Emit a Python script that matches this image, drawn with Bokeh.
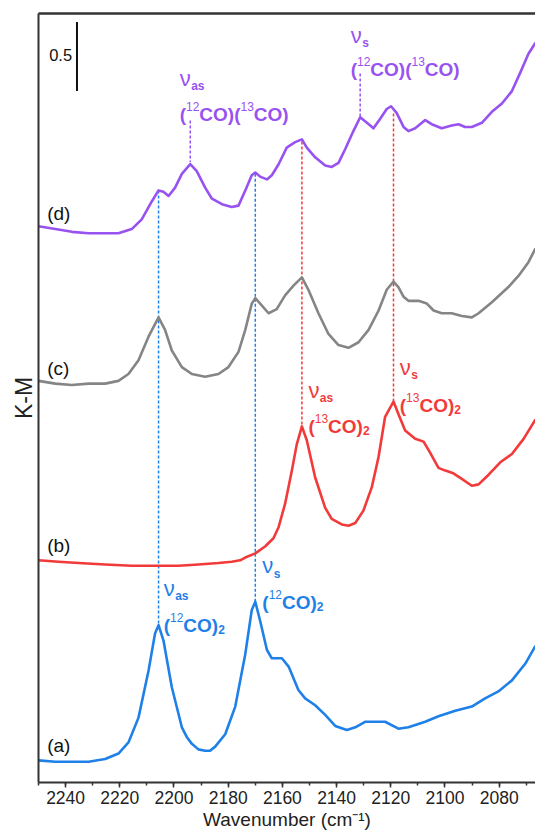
from bokeh.plotting import figure
from bokeh.models import Range1d, SingleIntervalTicker, FixedTicker, LinearAxis
from bokeh.core.properties import value
from bokeh.embed import file_html
from bokeh.resources import INLINE

# ---------------- data ----------------
wn_a = [2250, 2243.8, 2237.7, 2231.5, 2225.4, 2220.5, 2216.8, 2213.1, 2209.4, 2207.0, 2205.7, 2203.9,
        2200.8, 2197.1, 2195.3, 2193.4, 2191.0, 2188.5, 2186.7, 2184.8, 2181.1, 2177.4, 2173.7, 2171.3,
        2170.0, 2168.2, 2165.7, 2163.9, 2160.2, 2157.7, 2154.1, 2151.6, 2147.9, 2144.2, 2140.5, 2136.2,
        2133.1, 2129.5, 2125.8, 2122.1, 2117.2, 2113.5, 2107.3, 2102.4, 2096.2, 2090.1, 2085.2, 2080.3,
        2075.3, 2070.4, 2066.6]
km_a = [0.16, 0.15, 0.15, 0.15, 0.17, 0.21, 0.29, 0.47, 0.81, 1.08, 1.14, 1.03,
        0.69, 0.40, 0.33, 0.28, 0.24, 0.23, 0.23, 0.26, 0.35, 0.55, 0.93, 1.25,
        1.31, 1.17, 0.96, 0.90, 0.90, 0.84, 0.67, 0.61, 0.56, 0.49, 0.41, 0.38,
        0.40, 0.44, 0.44, 0.44, 0.39, 0.40, 0.44, 0.48, 0.52, 0.55, 0.61, 0.66,
        0.74, 0.86, 0.99]

wn_b = [2250, 2242.6, 2235.2, 2225.4, 2215.6, 2205.7, 2198.3, 2191.0, 2183.6, 2178.7, 2175.6, 2173.7,
        2170.0, 2166.4, 2163.3, 2161.4, 2159.0, 2156.5, 2154.7, 2152.8, 2151.0, 2147.9, 2144.2, 2141.8,
        2138.1, 2135.6, 2133.1, 2130.1, 2127.0, 2124.5, 2122.1, 2119.0, 2117.2, 2114.7, 2111.0, 2107.9,
        2105.5, 2102.4, 2099.9, 2096.9, 2093.8, 2090.1, 2087.6, 2083.9, 2079.6, 2075.3, 2071.0, 2066.6]
km_b = [1.61, 1.60, 1.59, 1.58, 1.57, 1.57, 1.57, 1.58, 1.59, 1.60, 1.61, 1.63,
        1.66, 1.71, 1.77, 1.85, 2.02, 2.26, 2.45, 2.58, 2.48, 2.21, 1.99, 1.91,
        1.87, 1.86, 1.88, 1.97, 2.14, 2.36, 2.65, 2.76, 2.67, 2.55, 2.49, 2.47,
        2.39, 2.28, 2.26, 2.24, 2.20, 2.15, 2.16, 2.23, 2.32, 2.38, 2.49, 2.63]

wn_c = [2250, 2243.8, 2237.7, 2231.5, 2225.4, 2220.5, 2216.8, 2213.1, 2209.4, 2205.7, 2203.3, 2200.8,
        2197.1, 2193.4, 2188.5, 2183.6, 2179.9, 2176.2, 2173.7, 2171.3, 2170.0, 2168.2, 2165.1, 2162.1,
        2159.0, 2155.9, 2152.8, 2150.4, 2146.7, 2143.0, 2139.3, 2135.6, 2131.9, 2128.2, 2124.5, 2121.5,
        2119.0, 2117.2, 2115.3, 2113.5, 2109.8, 2106.7, 2104.2, 2101.2, 2097.5, 2093.8, 2090.1, 2087.6,
        2082.7, 2076.6, 2072.9, 2069.2, 2066.6]
km_c = [2.91, 2.89, 2.88, 2.89, 2.89, 2.91, 2.96, 3.06, 3.23, 3.37, 3.28, 3.13,
        3.01, 2.96, 2.94, 2.96, 3.01, 3.12, 3.28, 3.47, 3.51, 3.47, 3.40, 3.43,
        3.53, 3.60, 3.66, 3.57, 3.40, 3.25, 3.17, 3.15, 3.19, 3.28, 3.42, 3.57,
        3.63, 3.59, 3.52, 3.49, 3.49, 3.47, 3.42, 3.40, 3.40, 3.38, 3.37, 3.40,
        3.48, 3.59, 3.67, 3.77, 3.87]

wn_d = [2250, 2243.8, 2237.7, 2231.5, 2225.4, 2220.5, 2215.6, 2211.9, 2208.2, 2205.7, 2203.9, 2202.0,
        2199.6, 2197.1, 2194.0, 2191.6, 2188.5, 2186.0, 2182.3, 2178.7, 2176.2, 2173.7, 2171.3, 2170.0,
        2168.2, 2165.7, 2163.9, 2161.4, 2158.4, 2155.3, 2152.8, 2151.0, 2147.9, 2144.2, 2141.8, 2139.3,
        2136.8, 2133.8, 2131.3, 2128.8, 2126.4, 2123.9, 2121.5, 2119.9, 2117.8, 2115.3, 2113.5, 2111.0,
        2107.3, 2104.9, 2101.2, 2097.5, 2095.0, 2092.6, 2090.1, 2086.4, 2082.7, 2079.0, 2075.3, 2072.3,
        2069.2, 2066.6]
km_d = [4.03, 4.01, 3.99, 3.98, 3.98, 3.98, 4.01, 4.08, 4.21, 4.29, 4.28, 4.25,
        4.31, 4.41, 4.48, 4.43, 4.31, 4.23, 4.19, 4.17, 4.18, 4.29, 4.40, 4.42,
        4.39, 4.37, 4.40, 4.48, 4.60, 4.64, 4.66, 4.60, 4.53, 4.47, 4.46, 4.49,
        4.59, 4.72, 4.82, 4.78, 4.74, 4.81, 4.88, 4.90, 4.85, 4.75, 4.72, 4.74,
        4.80, 4.77, 4.74, 4.76, 4.77, 4.75, 4.75, 4.78, 4.86, 4.92, 5.01, 5.14,
        5.28, 5.36]

spectrum_labels = ["(a)", "(b)", "(c)", "(d)"]
x_ticks_interval = 20
scale_bar_value = 0.5

# band assignments: position of the dashed marker line
band_wn = [2205.7, 2170.0, 2152.8, 2119.0, 2194.0, 2131.3]
band_mode = ["as", "s", "as", "s", "as", "s"]
band_species = ["12", "12", "13", "13", "mixed", "mixed"]

BLUE = "#1f80e8"
RED = "#f23a3a"
GRAY = "#858585"
PURPLE = "#9852f0"
AXIS = "#333333"
FONT = "Liberation Sans"

# ---------------- figure ----------------
p = figure(width=535, height=833, output_backend="svg", toolbar_location=None,
           x_range=Range1d(2250, 2066.6), y_range=Range1d(0, 5.572),
           min_border_left=38, min_border_right=0, min_border_top=13, min_border_bottom=51)
p.grid.visible = False
p.outline_line_color = None
p.background_fill_color = "white"
p.border_fill_color = "white"

xa = p.xaxis[0]
xa.ticker = SingleIntervalTicker(interval=x_ticks_interval, num_minor_ticks=2)
xa.axis_label = "Wavenumber (cm\u207b\u00b9)"
xa.axis_label_text_font = FONT
xa.axis_label_text_font_style = "normal"
xa.axis_label_text_font_size = "19px"
xa.axis_label_text_color = "#222222"
xa.axis_label_standoff = 2
xa.major_label_text_font = FONT
xa.major_label_text_font_size = "17.5px"
xa.major_label_text_color = "#222222"
xa.major_label_standoff = 3
xa.axis_line_color = AXIS
xa.axis_line_width = 2
xa.major_tick_line_color = AXIS
xa.minor_tick_line_color = AXIS
xa.major_tick_line_width = 1.5
xa.minor_tick_line_width = 1.5
xa.major_tick_in = 0
xa.major_tick_out = 5
xa.minor_tick_in = 0
xa.minor_tick_out = 3

# left axis: only the line
ya = p.yaxis[0]
ya.ticker = FixedTicker(ticks=[])
ya.axis_label = None
ya.axis_line_color = AXIS
ya.axis_line_width = 2
ya.major_label_text_font_size = "0px"
ya.major_label_standoff = 0
ya.major_tick_out = 0
ya.minor_tick_out = 0

# second left axis: only the title, centred a bit above the frame centre
ylab = LinearAxis(ticker=FixedTicker(ticks=[]), bounds=(0.0, 5.884), axis_line_color=None,
                  major_tick_out=0, minor_tick_out=0, major_label_text_font_size="0px",
                  major_label_standoff=0, axis_label="K-M", axis_label_standoff=2,
                  axis_label_text_font=FONT, axis_label_text_font_size="23px",
                  axis_label_text_font_style="normal", axis_label_text_color="#222222")
p.add_layout(ylab, "left")

top = LinearAxis(ticker=FixedTicker(ticks=[]), axis_line_color=AXIS, axis_line_width=2.5,
                 major_tick_out=0, minor_tick_out=0, major_label_text_font_size="0px",
                 major_label_standoff=0, axis_label_standoff=0)
p.add_layout(top, "above")

# ---------------- dashed marker lines ----------------
seg_top = [4.29, 4.41, 4.645, 4.848, 4.797, 5.138]
seg_bot = [1.145, 1.314, 2.58, 2.756, 4.495, 4.821]
seg_col = [BLUE, BLUE, RED, RED, PURPLE, PURPLE]
p.segment(x0=band_wn, y0=seg_top, x1=band_wn, y1=seg_bot, line_color=seg_col,
          line_width=1.5, line_dash="3 2")

# ---------------- spectra ----------------
for wn, km, col in [(wn_a, km_a, BLUE), (wn_b, km_b, RED), (wn_c, km_c, GRAY), (wn_d, km_d, PURPLE)]:
    p.line(wn, km, line_color=col, line_width=2.6, line_join="round")

# spectrum labels
p.text(x=[2246.8] * 4, y=[0.27, 1.72, 3.0, 4.12], text=spectrum_labels,
       text_font=value(FONT), text_font_size="19px", text_color="#111111",
       text_baseline="middle", text_align="left")

# scale bar
p.segment(x0=[2235.8], y0=[5.01], x1=[2235.8], y1=[5.01 + scale_bar_value],
          line_color="#111111", line_width=2)
p.text(x=[2237.6], y=[5.268], text=[str(scale_bar_value)], text_font=value(FONT),
       text_font_size="16.5px", text_color="#111111", text_baseline="middle", text_align="right")

# ---------------- rich band labels ----------------
W_REG = {'(': 333, ')': 333, 'C': 722, 'O': 778, '1': 556, '2': 556, '3': 556,
         'a': 556, 's': 500, '\u03bd': 521}
W_BOLD = {'(': 333, ')': 333, 'C': 722, 'O': 778, '1': 556, '2': 556, '3': 556,
          'a': 556, 's': 556, '\u03bd': 556}


def text_width(s, size, bold):
    tab = W_BOLD if bold else W_REG
    return sum(tab.get(c, 556) for c in s) * size / 1000.0


def rich(x, y, segs, color):
    dx = 0.0
    for s, size, bold, dy in segs:
        p.text(x=[x], y=[y], text=[s], x_offset=dx, y_offset=dy,
               text_font=value(FONT), text_font_size=f"{size}px",
               text_font_style="bold" if bold else "normal",
               text_color=color, text_baseline="alphabetic", text_align="left")
        dx += text_width(s, size, bold)


label_anchor = [(2203.8, 1.138, -37), (2167.4, 1.304, -37), (2150.4, 2.58, -36),
                (2116.7, 2.732, -38), (2197.9, 4.841, -36), (2134.8, 5.167, -34)]
label_col = [BLUE, BLUE, RED, RED, PURPLE, PURPLE]
MAIN = 19
SMALL = 12
for (lx, ly, nu_dy), mode, sp, col in zip(label_anchor, band_mode, band_species, label_col):
    rich(lx, ly, [("\u03bd", 22, False, nu_dy), (mode, 12, True, nu_dy + 8)], col)
    if sp == "mixed":
        segs = [("(", MAIN, True, 0), ("12", SMALL, False, -8), ("CO)(", MAIN, True, 0),
                ("13", SMALL, False, -8), ("CO)", MAIN, True, 0)]
    else:
        segs = [("(", MAIN, True, 0), (sp, SMALL, False, -8), ("CO)", MAIN, True, 0),
                ("2", SMALL, True, 4)]
    rich(lx, ly, segs, col)

open("out.html", "w").write(file_html(p, INLINE))
